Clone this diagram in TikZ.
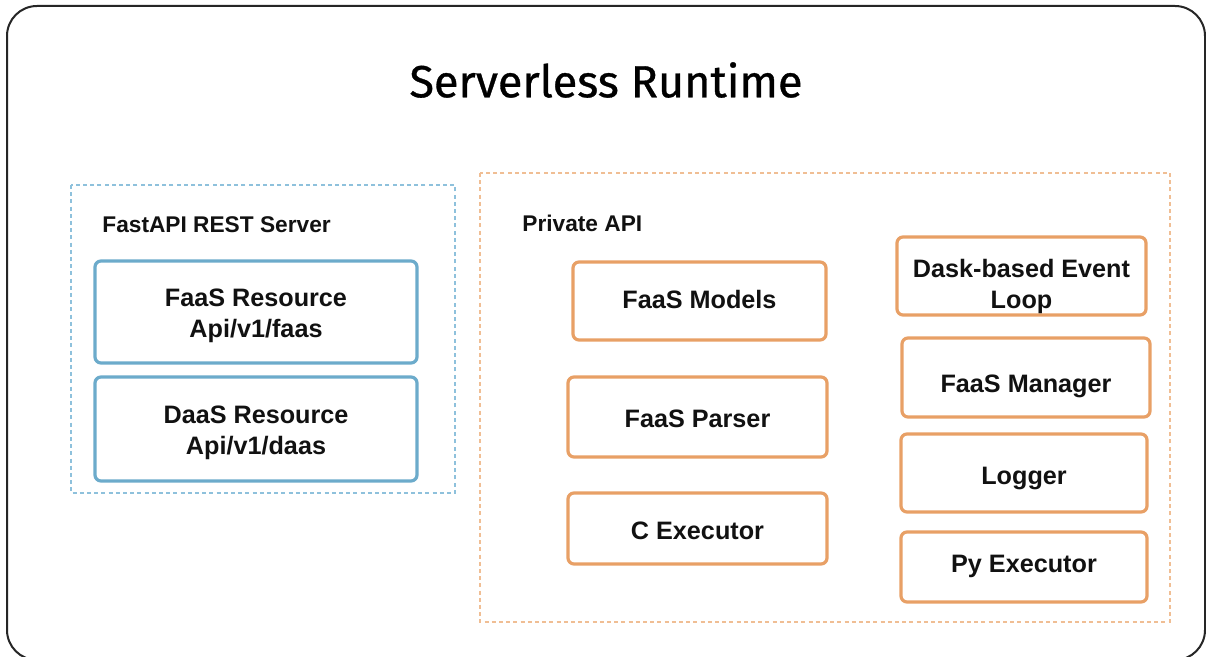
\documentclass[tikz,border=0pt]{standalone}
\usepackage{fontspec}
\setmainfont{Liberation Sans}
\newfontfamily\titlefont[FakeBold=0.7]{Fira Sans}
% box text, lowered by #1 without changing its reported size
\newcommand\boxtext[2]{\raisebox{-#1}[\height][\depth]{\begin{tabular}{@{}c@{}}#2\end{tabular}}}
\begin{document}
\begin{tikzpicture}[x=0.5pt,y=-0.5pt,
  blueline/.style={draw={rgb,255:red,108;green,171;blue,203}},
  orangeline/.style={draw={rgb,255:red,232;green,160;blue,102}},
  group/.style={line width=0.6pt, dash pattern=on 2pt off 1.6pt},
  item/.style={rounded corners=3pt, line width=1.6pt, fill=white, inner sep=0pt,
    align=center, font=\fontsize{12.6pt}{15.5pt}\selectfont\bfseries, text={rgb,255:red,17;green,17;blue,17}},
  bluebox/.style={item, blueline},
  orangebox/.style={item, orangeline},
  grouplabel/.style={anchor=base west, inner sep=0pt, font=\fontsize{11.35pt}{13pt}\selectfont\bfseries, text={rgb,255:red,17;green,17;blue,17}}
]
\useasboundingbox (0,0) rectangle (1206,657);
\fill[white] (0,0) rectangle (1206,657);

% outer frame
\begin{scope}
\clip (0,0) rectangle (1206,657);
\draw[line width=1pt, black!85, rounded corners=15pt] (7,6) rectangle (1205,660);
\end{scope}

% title
\node[inner sep=0pt, font=\titlefont\fontsize{22.5pt}{27pt}\selectfont] (title) at (606,80) {Serverless Runtime};

% REST server group
\draw[group, draw={rgb,255:red,142;green,193;blue,220}] (71,185) rectangle (455,493);
\node[grouplabel] (restlabel) at (102,233) {FastAPI REST Server};
\node[bluebox, minimum width=161pt, minimum height=51pt] (faasres) at (256,312) {\boxtext{2pt}{FaaS Resource\\Api/v1/faas}};
\node[bluebox, minimum width=161pt, minimum height=52pt] (daasres) at (256,429) {\boxtext{2pt}{DaaS Resource\\Api/v1/daas}};

% private API group
\draw[group, draw={rgb,255:red,240;green,190;blue,148}] (480,173) rectangle (1170,622);
\node[grouplabel] (privlabel) at (522,232) {Private API};
\node[orangebox, minimum width=126.5pt, minimum height=39pt] (models) at (699.5,301) {\boxtext{0.7pt}{FaaS Models}};
\node[orangebox, minimum width=129.5pt, minimum height=40pt] (parser) at (697.5,417) {\boxtext{2.3pt}{FaaS Parser}};
\node[orangebox, minimum width=129.5pt, minimum height=35.5pt] (cexec) at (697.5,528.5) {\boxtext{2.3pt}{C Executor}};
\node[orangebox, minimum width=124.5pt, minimum height=39pt] (dask) at (1021.5,276) {\boxtext{5.3pt}{Dask-based Event\\Loop}};
\node[orangebox, minimum width=124pt, minimum height=39.5pt] (manager) at (1026,377.5) {\boxtext{4.3pt}{FaaS Manager}};
\node[orangebox, minimum width=123pt, minimum height=39pt] (logger) at (1024,473) {\boxtext{2.8pt}{Logger}};
\node[orangebox, minimum width=123pt, minimum height=35pt] (pyexec) at (1024,567) {\boxtext{-0.3pt}{Py Executor}};
\end{tikzpicture}
\end{document}
